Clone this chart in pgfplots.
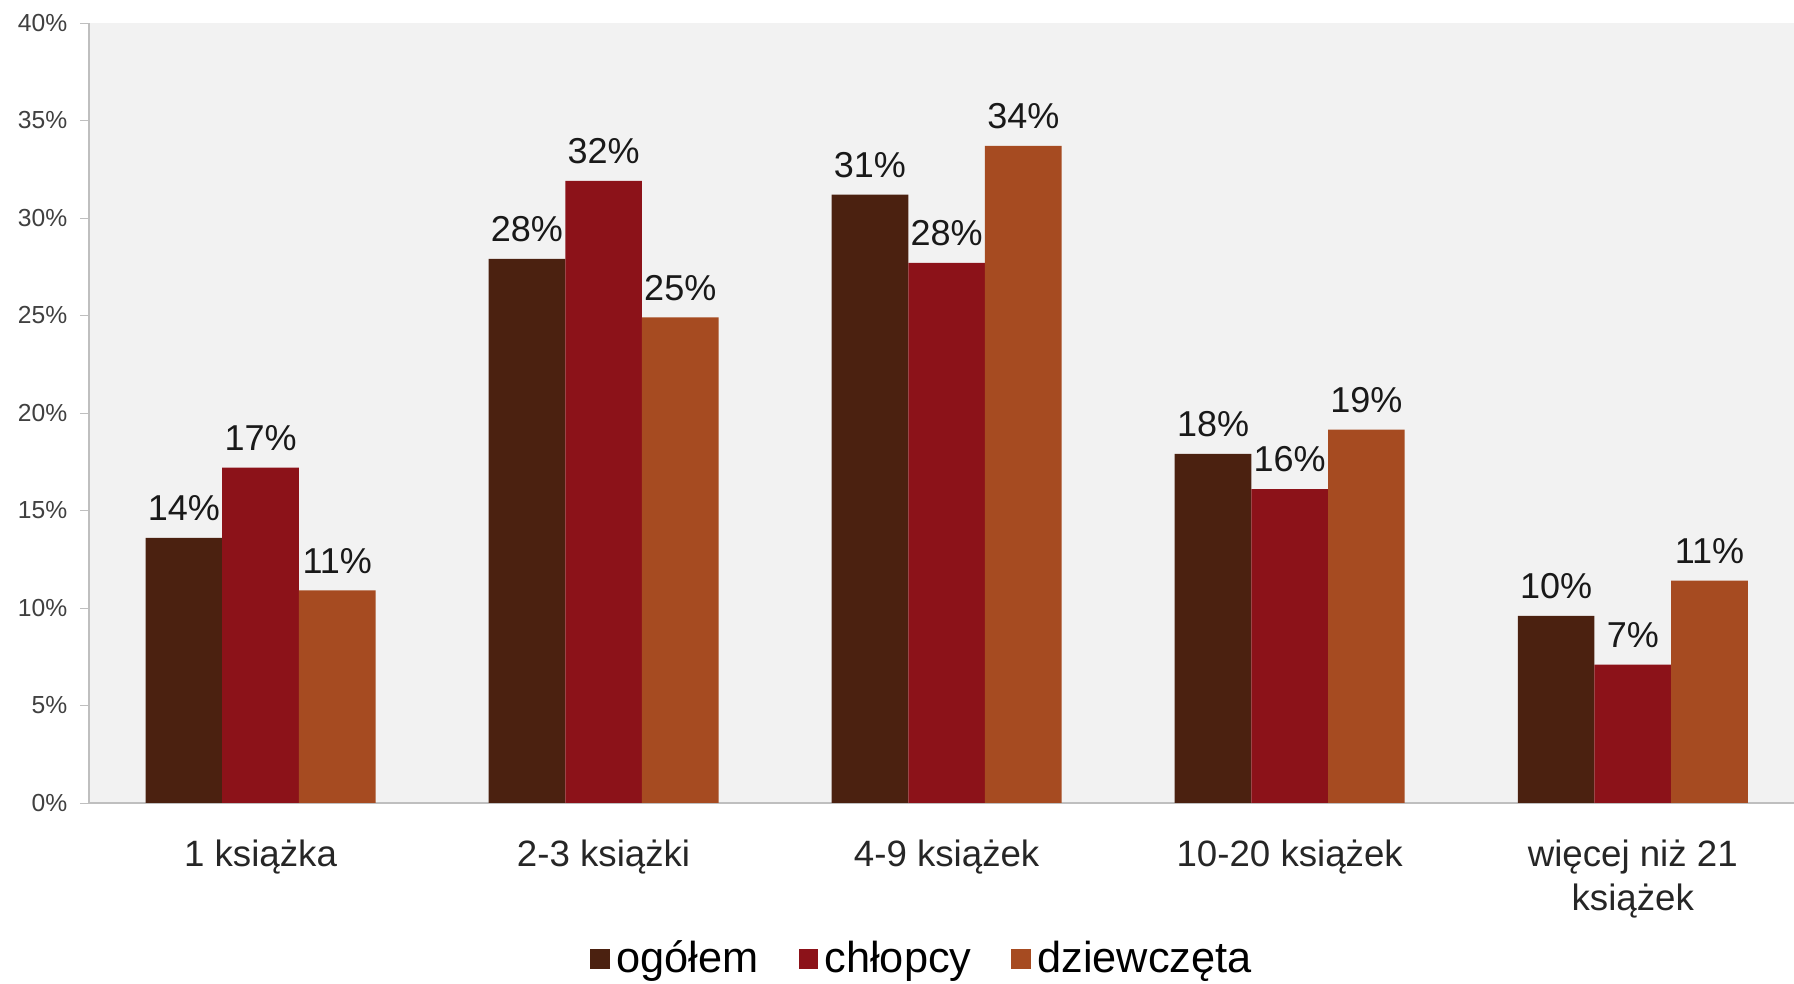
\documentclass[border=0pt]{standalone}
\usepackage{pgfplots}
\pgfplotsset{compat=1.18}
\usepackage{fontspec}
\setmainfont{Liberation Sans}
\definecolor{cOg}{HTML}{4B2110}
\definecolor{cCh}{HTML}{8C1219}
\definecolor{cDz}{HTML}{A64B21}
\definecolor{bgc}{HTML}{F2F2F2}
\definecolor{axc}{HTML}{BFBFBF}
\definecolor{tickc}{HTML}{404040}
\begin{document}
\begin{tikzpicture}
\begin{axis}[
  scale only axis,
  width=511.5pt, height=234pt,
  ybar=0pt, bar width=23pt,
  xmin=-0.5, xmax=4.47,
  ymin=0, ymax=40,
  xtick={0,1,2,3,4},
  xticklabels={1 książka,2-3 książki,4-9 książek,10-20 książek,{więcej niż 21\\książek}},
  xticklabel style={align=center, font=\fontsize{11pt}{13pt}\selectfont, text=black!85, yshift=-5pt},
  x tick style={draw=none},
  ytick={0,5,10,15,20,25,30,35,40},
  yticklabels={0\%,5\%,10\%,15\%,20\%,25\%,30\%,35\%,40\%},
  yticklabel style={font=\fontsize{7.4pt}{8.8pt}\selectfont, text=tickc, xshift=-0.3pt},
  /pgf/number format/assume math mode=true,
  tick align=outside,
  major tick length=2.7pt,
  y tick style={draw=axc},
  axis lines*=left,
  axis line style={draw=axc, line width=0.8pt},
  axis background/.style={fill=bgc},
  every axis plot/.append style={draw=none},
  nodes near coords={\pgfmathprintnumber[fixed,precision=0]{\pgfplotspointmeta}\%},
  every node near coord/.append style={font=\fontsize{10.8pt}{13pt}\selectfont, text=black!90, yshift=1.5pt},
  legend style={at={(0.49,-0.2)}, anchor=center, draw=none, fill=none,
    legend columns=-1, font=\fontsize{13pt}{15pt}\selectfont,
    /tikz/every even column/.append style={column sep=10pt}},
  legend image code/.code={\fill[#1] (0pt,-2.9pt) rectangle (5.8pt,2.9pt);},
  clip=false,
]
\addplot[fill=cOg] coordinates {(0,13.6) (1,27.9) (2,31.2) (3,17.9) (4,9.6)};
\addplot[fill=cCh] coordinates {(0,17.2) (1,31.9) (2,27.7) (3,16.1) (4,7.1)};
\addplot[fill=cDz] coordinates {(0,10.9) (1,24.9) (2,33.7) (3,19.15) (4,11.4)};
\legend{ogółem,chłopcy,dziewczęta}
\coordinate (bbll) at (rel axis cs:-0.0522,-0.2308);
\coordinate (bbur) at (rel axis cs:1,1.0295);
\end{axis}
\pgfresetboundingbox
\path[use as bounding box] (bbll) rectangle (bbur);
\end{tikzpicture}
\end{document}
